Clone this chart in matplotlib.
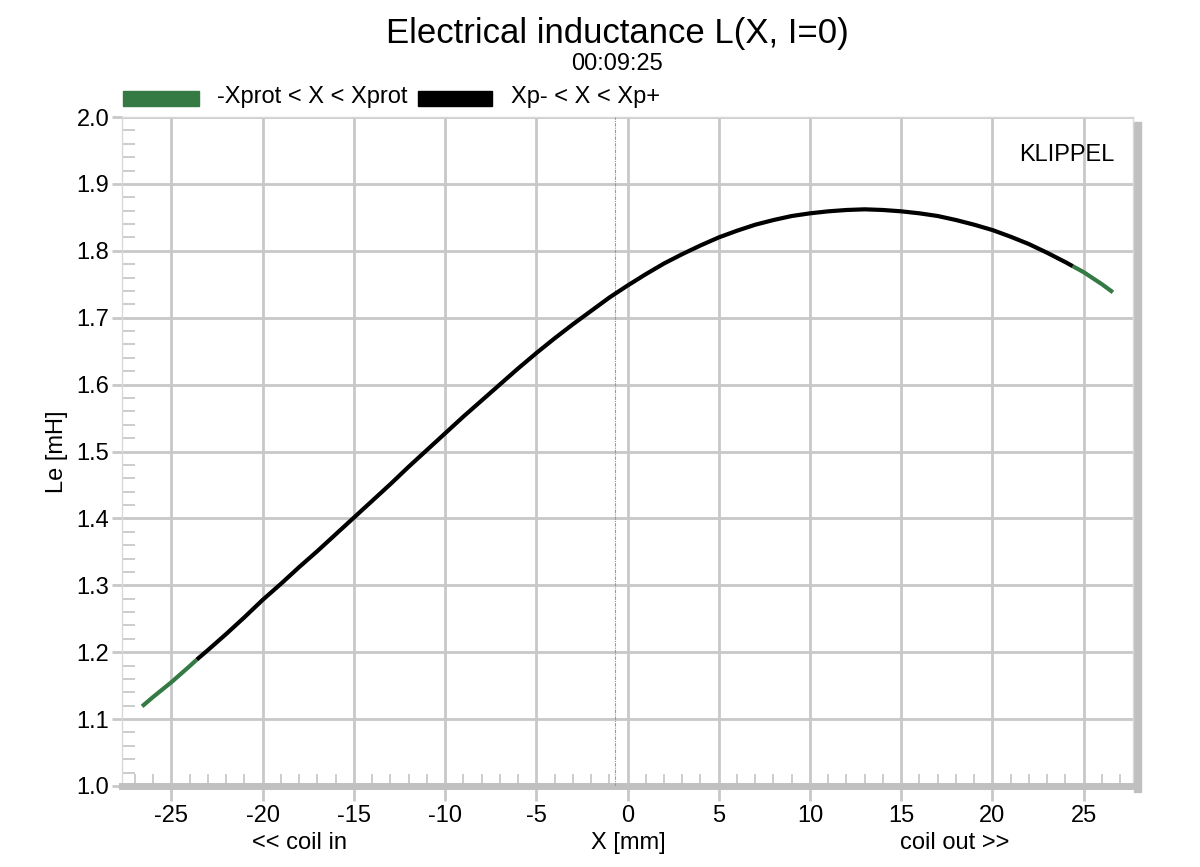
import numpy as np
import matplotlib.pyplot as plt
from matplotlib.patches import Rectangle
from matplotlib.ticker import MultipleLocator

plt.rcParams.update({
    "font.family": ["Liberation Sans", "DejaVu Sans"],
    "font.size": 17,
})

# values
x_mm = [-26.6, -26, -25, -24, -23.6, -23, -22, -21, -20, -19, -18, -17, -16,
        -15, -14, -13, -12, -11, -10, -9, -8, -7, -6, -5, -4, -3, -2, -1,
        0, 1, 2, 3, 4, 5, 6, 7, 8, 9, 10, 11, 12, 13, 14, 15, 16, 17, 18,
        19, 20, 21, 22, 23, 24, 24.4, 25, 26, 26.6]
le_mH = [1.119, 1.133, 1.155, 1.179, 1.189, 1.203, 1.227, 1.252, 1.278, 1.302,
         1.327, 1.351, 1.376, 1.401, 1.426, 1.451, 1.477, 1.502, 1.527, 1.552,
         1.576, 1.600, 1.624, 1.647, 1.669, 1.690, 1.710, 1.730, 1.748, 1.765,
         1.781, 1.795, 1.808, 1.820, 1.830, 1.839, 1.846, 1.852, 1.856, 1.859,
         1.861, 1.862, 1.861, 1.859, 1.856, 1.852, 1.846, 1.839, 1.831, 1.821,
         1.810, 1.797, 1.783, 1.777, 1.768, 1.750, 1.738]
xprot_lo, xprot_hi = -23.6, 24.4
x_marker = -0.7

x = np.array(x_mm)
y = np.array(le_mH)

grid_c = "#c8c8c8"
green = "#357a45"

fig = plt.figure(figsize=(12, 8.67), dpi=100)
ax = fig.add_axes([122/1200, 1-786/867, 1011/1200, 669/867])

# shadow to the right of the plot
fig.add_artist(Rectangle((1134/1200, 1-792/867), 7/1200, 670/867,
                         transform=fig.transFigure, color="#c0c0c0", zorder=0))

lo = x <= xprot_lo
hi = x >= xprot_hi
mid = (x >= xprot_lo) & (x <= xprot_hi)
ax.plot(x[lo], y[lo], color=green, lw=3, solid_capstyle="butt", zorder=5)
ax.plot(x[hi], y[hi], color=green, lw=3, solid_capstyle="butt", zorder=5)
ax.plot(x[mid], y[mid], color="black", lw=3, solid_capstyle="butt",
        solid_joinstyle="round", zorder=6)

ax.axvline(x_marker, color="#999999", lw=0.8, ls=(0, (3, 1, 1, 1)), zorder=3)

ax.set_xlim(-27.7, 27.7)
ax.set_ylim(1.0, 2.0)
ax.xaxis.set_major_locator(MultipleLocator(5))
ax.xaxis.set_minor_locator(MultipleLocator(1))
ax.yaxis.set_major_locator(MultipleLocator(0.1))
ax.yaxis.set_minor_locator(MultipleLocator(0.02))
ax.yaxis.set_major_formatter(plt.FuncFormatter(lambda v, p: f"{v:.1f}"))
ax.xaxis.set_major_formatter(plt.FuncFormatter(lambda v, p: f"{v:.0f}"))

ax.grid(True, which="major", color=grid_c, lw=2, zorder=1)
ax.tick_params(axis="x", which="major", direction="out", length=11, width=2,
               color=grid_c, labelsize=17, pad=3)
ax.tick_params(axis="y", which="major", direction="out", length=7, width=2,
               color=grid_c, labelsize=17, pad=2)
ax.tick_params(which="minor", direction="in", length=9, width=1.3, color=grid_c)
ax.tick_params(axis="x", which="minor", bottom=True)

for s in ["left", "top", "right"]:
    ax.spines[s].set_color("#d8d8d8")
    ax.spines[s].set_linewidth(1)
ax.spines["bottom"].set_color("#c0c0c0")
ax.spines["bottom"].set_linewidth(5)

ax.set_ylabel("Le [mH]", fontsize=17, labelpad=6)
ax.text(0.982, 0.943, "KLIPPEL", transform=ax.transAxes, ha="right", va="center",
        fontsize=17)

# x axis texts
fig.text(300/1200, 1-843/867, "<< coil in", ha="center", va="center", fontsize=17)
fig.text(628/1200, 1-843/867, "X [mm]", ha="center", va="center", fontsize=17)
fig.text(955/1200, 1-843/867, "coil out >>", ha="center", va="center", fontsize=17)

# titles
fig.text(617/1200, 1-34/867, "Electrical inductance L(X, I=0)", ha="center",
         va="center", fontsize=25)
fig.text(617/1200, 1-64/867, "00:09:25", ha="center", va="center", fontsize=17)

# legend
fig.add_artist(Rectangle((123/1200, 1-106/867), 76/1200, 15/867,
                         transform=fig.transFigure, color=green))
fig.text(217/1200, 1-97/867, "-Xprot < X < Xprot", ha="left", va="center",
         fontsize=17)
fig.add_artist(Rectangle((418/1200, 1-106/867), 74/1200, 15/867,
                         transform=fig.transFigure, color="black"))
fig.text(511/1200, 1-97/867, "Xp- < X < Xp+", ha="left", va="center",
         fontsize=17)

fig.savefig("out.png", dpi=100)
plt.close(fig)
